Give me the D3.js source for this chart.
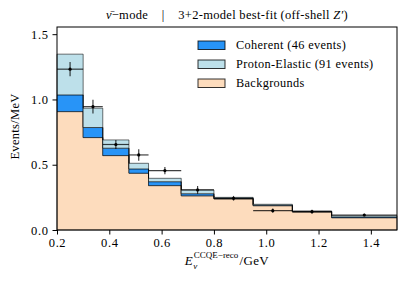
<!DOCTYPE html>
<html>
<head>
<meta charset="utf-8">
<script src="https://cdn.jsdelivr.net/npm/d3@7"></script>
<style>
  body { margin: 0; background: #fff; }
  text { font-family: "Liberation Serif", "DejaVu Serif", serif; fill: #000; }
</style>
</head>
<body>
<div id="chart"></div>
<script>
const svgWidth = 407
const svgHeight = 285

const margin = { top: 27, right: 10, bottom: 55, left: 57 }
const width = svgWidth - margin.left - margin.right
const height = svgHeight - margin.top - margin.bottom

// bin edges (GeV) and per-bin contributions (Events/MeV)
const binEdges = [0.2, 0.3, 0.375, 0.475, 0.55, 0.675, 0.8, 0.95, 1.1, 1.25, 1.5]
const backgrounds = [0.907, 0.708, 0.57, 0.435, 0.34, 0.262, 0.238, 0.186, 0.138, 0.094]
const coherent = [0.128, 0.077, 0.057, 0.033, 0.03, 0.016, 0.005, 0.004, 0.004, 0.006]
const protonElastic = [0.312, 0.148, 0.063, 0.043, 0.026, 0.029, 0.007, 0.007, 0.004, 0.01]
const dataValues = [1.232, 0.945, 0.655, 0.575, 0.455, 0.307, 0.243, 0.148, 0.14, 0.115]
const dataErrors = [0.055, 0.053, 0.035, 0.044, 0.028, 0.03, 0.018, 0.016, 0.015, 0.01]

const xTicks = [0.2, 0.4, 0.6, 0.8, 1.0, 1.2, 1.4]
const yTicks = [0.0, 0.5, 1.0, 1.5]

const layers = [
  { name: "Backgrounds", values: backgrounds, color: "#fddcbd" },
  { name: "Coherent (46 events)", values: coherent, color: "#2894f7" },
  { name: "Proton-Elastic (91 events)", values: protonElastic, color: "#bde0ea" }
]

const svg = d3.select("#chart").append("svg")
  .attr("width", svgWidth)
  .attr("height", svgHeight)

const chartGroup = svg.append("g")
  .attr("transform", `translate(${margin.left}, ${margin.top})`)

const x = d3.scaleLinear().domain([0.2, 1.5]).range([0, width])
const y = d3.scaleLinear().domain([0, 1.555]).range([height, 0])

// stacked step areas
let lower = binEdges.slice(0, -1).map(() => 0)
layers.forEach(layer => {
  const upper = lower.map((v, i) => v + layer.values[i])
  const pts = binEdges.map((e, i) => {
    const j = Math.min(i, upper.length - 1)
    return { x: e, y0: lower[j], y1: upper[j] }
  })
  const area = d3.area()
    .curve(d3.curveStepAfter)
    .x(d => x(d.x))
    .y0(d => y(d.y0))
    .y1(d => y(d.y1))
  chartGroup.append("path")
    .datum(pts)
    .attr("d", area)
    .attr("fill", layer.color)
    .attr("stroke", "#000")
    .attr("stroke-opacity", 0.55)
    .attr("stroke-width", 1)
  lower = upper
})

// data points with error bars
const bins = dataValues.map((v, i) => ({
  lo: binEdges[i], hi: binEdges[i + 1], v: v, e: dataErrors[i]
}))
const pointGroup = chartGroup.append("g")
pointGroup.selectAll("line.xerr").data(bins).enter().append("line")
  .attr("x1", d => x(d.lo)).attr("x2", d => x(d.hi))
  .attr("y1", d => y(d.v)).attr("y2", d => y(d.v))
  .attr("stroke", "#000").attr("stroke-opacity", 0.75).attr("stroke-width", 1.2)
pointGroup.selectAll("line.yerr").data(bins).enter().append("line")
  .attr("x1", d => x((d.lo + d.hi) / 2)).attr("x2", d => x((d.lo + d.hi) / 2))
  .attr("y1", d => y(d.v - d.e)).attr("y2", d => y(d.v + d.e))
  .attr("stroke", "#000").attr("stroke-opacity", 0.75).attr("stroke-width", 1.2)
pointGroup.selectAll("circle").data(bins).enter().append("circle")
  .attr("cx", d => x((d.lo + d.hi) / 2))
  .attr("cy", d => y(d.v))
  .attr("r", 1.6)
  .attr("fill", "#000")

// axes
const bottomAxis = d3.axisBottom(x).tickValues(xTicks).tickFormat(d3.format(".1f"))
  .tickSizeInner(4.5).tickSizeOuter(0).tickPadding(4)
const leftAxis = d3.axisLeft(y).tickValues(yTicks).tickFormat(d3.format(".1f"))
  .tickSizeInner(4.5).tickSizeOuter(0).tickPadding(4)

const xAxis = chartGroup.append("g")
  .attr("transform", `translate(0, ${height})`)
  .call(bottomAxis)
const yAxis = chartGroup.append("g").call(leftAxis)
;[xAxis, yAxis].forEach(a => {
  a.select(".domain").remove()
  a.selectAll("text").style("font-family", '"Liberation Serif", serif')
    .style("font-size", "12.5px").style("letter-spacing", "0.6px")
  a.selectAll("line").attr("stroke", "#000")
})

// frame
chartGroup.append("rect")
  .attr("width", width).attr("height", height)
  .attr("fill", "none").attr("stroke", "#000").attr("stroke-width", 1)

// legend
const legend = chartGroup.append("g")
  .attr("transform", `translate(${198 - margin.left}, ${41 - margin.top})`)
const legendOrder = [layers[1], layers[2], layers[0]]
legendOrder.forEach((layer, i) => {
  const g = legend.append("g").attr("transform", `translate(0, ${i * 19})`)
  g.append("rect")
    .attr("width", 27).attr("height", 8.5)
    .attr("fill", layer.color).attr("stroke", "#000").attr("stroke-opacity", 0.8)
  g.append("text")
    .attr("x", 38).attr("y", 8.3)
    .style("font-size", "12.3px")
    .style("letter-spacing", "0.35px")
    .text(layer.name)
})

// title
const title = svg.append("text")
  .attr("x", margin.left + width / 2).attr("y", 19)
  .attr("text-anchor", "middle")
  .style("font-size", "12.5px")
  .style("letter-spacing", "0.3px")
  .style("white-space", "pre")
title.append("tspan").style("font-style", "italic").text("ν\u0304")
title.append("tspan").text("\u2212mode    |    3+2-model best-fit (off-shell ")
title.append("tspan").style("font-style", "italic").text("Z\u2032")
title.append("tspan").text(")")

// x label: E, sub nu, sup CCQE-reco, then /GeV
const xLabel = svg.append("g")
const eText = xLabel.append("text").attr("y", 265).style("font-size", "13px")
  .style("font-style", "italic").text("E")
const supText = xLabel.append("text").attr("y", 258).style("font-size", "9px").text("CCQE\u2212reco")
const subText = xLabel.append("text").attr("y", 268.5).style("font-size", "9px")
  .style("font-style", "italic").text("ν")
const unitText = xLabel.append("text").attr("y", 265).style("font-size", "13px")
  .style("letter-spacing", "0.4px").text("/GeV")
const wE = eText.node().getComputedTextLength()
const wSup = supText.node().getComputedTextLength()
const wUnit = unitText.node().getComputedTextLength()
const total = wE + 1 + wSup + 1 + wUnit
const x0 = margin.left + width / 2 - total / 2
eText.attr("x", x0)
supText.attr("x", x0 + wE + 1)
subText.attr("x", x0 + wE + 0.5)
unitText.attr("x", x0 + wE + 1 + wSup + 1)

// y label
svg.append("text")
  .attr("transform", `translate(19, ${margin.top + height / 2 - 2}) rotate(-90)`)
  .attr("text-anchor", "middle")
  .style("font-size", "12.5px")
  .style("letter-spacing", "0.3px")
  .text("Events/MeV")
</script>
</body>
</html>
